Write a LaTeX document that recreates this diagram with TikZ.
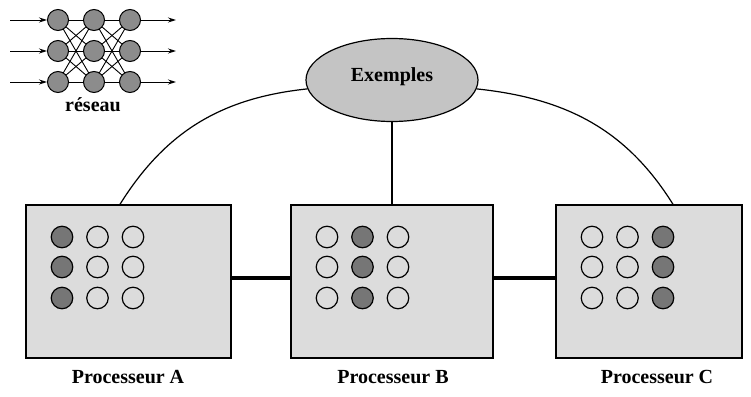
\documentclass[tikz,border=0pt]{standalone}
\usepackage{fontspec}
\setmainfont{Liberation Serif}
\usetikzlibrary{shapes.geometric,arrows.meta}
\definecolor{boxgray}{HTML}{DCDCDC}
\definecolor{ellgray}{HTML}{C4C4C4}
\definecolor{darkdot}{HTML}{767676}
\definecolor{netgray}{HTML}{8C8C8C}
\tikzset{
  procbox/.style={draw, line width=1.4pt, fill=boxgray, rectangle, minimum width=#1, minimum height=153pt, inner sep=0pt},
  dot/.style={circle, draw, line width=1.2pt, minimum size=21.5pt, inner sep=0pt},
  darkdotstyle/.style={dot, fill=darkdot},
  netnode/.style={circle, draw, line width=1pt, minimum size=21pt, inner sep=0pt, fill=netgray},
  netline/.style={line width=0.9pt},
  netarrow/.style={line width=0.9pt, -{Stealth[length=8pt,width=5pt]}},
  link/.style={line width=1.2pt},
  buslink/.style={line width=3.5pt},
  lab/.style={font=\bfseries\fontsize{20}{22}\selectfont, inner sep=0pt}
}
\begin{document}
\begin{tikzpicture}[x=1pt,y=-1pt]
\useasboundingbox (0,0) rectangle (751,396);
% network icon
\foreach \c/\x in {1/58,2/94,3/130}{
  \foreach \r/\y in {1/20,2/51,3/82}{
    \coordinate (n\c\r) at (\x,\y);
  }
}
\foreach \a in {1,2,3}{
  \foreach \b in {1,2,3}{
    \draw[netline] (n1\a) -- (n2\b);
    \draw[netline] (n2\a) -- (n3\b);
  }
}
\foreach \c/\x in {1/58,2/94,3/130}{
  \foreach \r/\y in {1/20,2/51,3/82}{
    \node[netnode] (m\c\r) at (\x,\y) {};
  }
}
\foreach \r/\y in {1/20,2/51,3/82}{
  \coordinate (in\r) at (10,\y);
  \coordinate (out\r) at (176,\y);
  \draw[netarrow] (in\r) -- (m1\r.west);
  \draw[netarrow] (m3\r.east) -- (out\r);
}
\node[lab] (reseau) at (93,105) {réseau};
% examples
\node[ellipse, draw, line width=1.2pt, fill=ellgray, minimum width=172pt, minimum height=83pt, inner sep=0pt] (ex) at (392,80) {};
\node[lab] (extxt) at (392,77) {Exemples};
% boxes
\node[procbox=205pt] (boxA) at (128.5,281.5) {};
\node[procbox=202pt] (boxB) at (392,281.5) {};
\node[procbox=186pt] (boxC) at (649,281.5) {};
% dots
\foreach \bx/\cx/\dark in {A/62/1,B/327/2,C/592/3}{
  \foreach \c in {1,2,3}{
    \foreach \r/\y in {1/237,2/267,3/298}{
      \pgfmathsetmacro{\xx}{\cx+(\c-1)*35.5}
      \ifnum\c=\dark
        \node[darkdotstyle] (d\bx\c\r) at (\xx,\y) {};
      \else
        \node[dot] (d\bx\c\r) at (\xx,\y) {};
      \fi
    }
  }
}
% connectors
\draw[link] (ex.186) to[out=186,in=58] ([xshift=-8.5pt]boxA.north);
\draw[link] (ex.-6) to[out=-6,in=122] ([xshift=24pt]boxC.north);
\draw[link] (ex.south) -- (boxB.north);
\draw[buslink] ([yshift=3.5pt]boxA.east) -- ([yshift=3.5pt]boxB.west);
\draw[buslink] ([yshift=3.5pt]boxB.east) -- ([yshift=3.5pt]boxC.west);
% labels
\node[lab] (la) at (128,377) {Processeur A};
\node[lab] (lb) at (393,377) {Processeur B};
\node[lab] (lc) at (657,377) {Processeur C};
\end{tikzpicture}
\end{document}
